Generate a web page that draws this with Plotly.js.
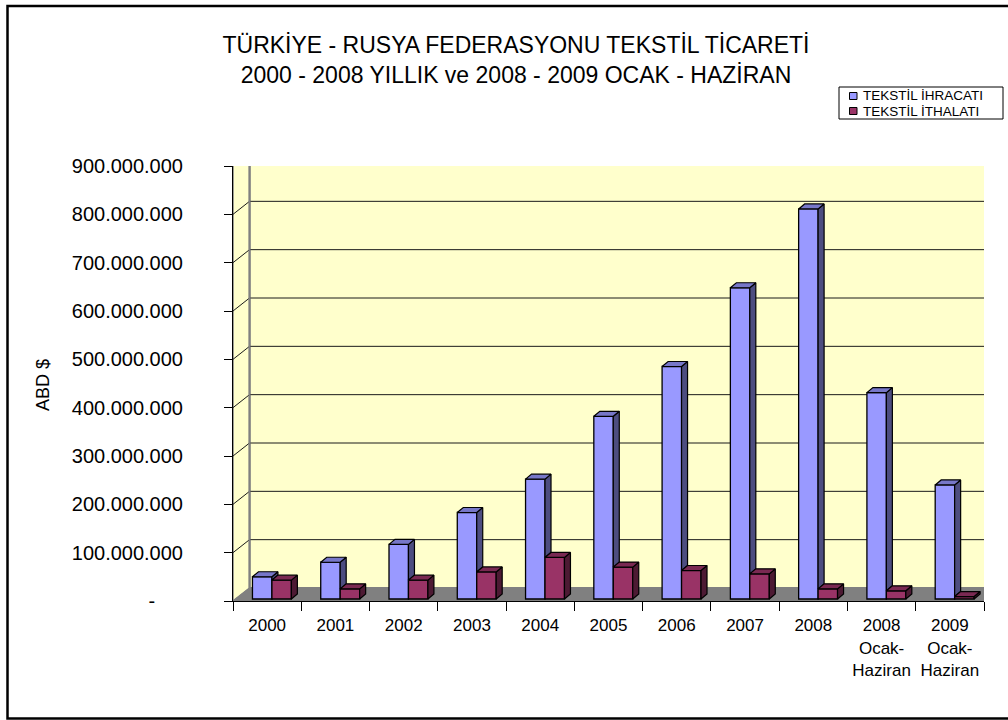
<!DOCTYPE html>
<html>
<head>
<meta charset="utf-8">
<script src="https://cdn.plot.ly/plotly-3.0.1.min.js"></script>
<style>html,body{margin:0;padding:0;background:#fff;}#chart{width:1008px;height:720px;}</style>
</head>
<body>
<div id="chart"></div>
<script>
// ---- data ----
const categories = ['2000','2001','2002','2003','2004','2005','2006','2007','2008','2008<br>Ocak-<br>Haziran','2009<br>Ocak-<br>Haziran'];
const exportsUSD = [46e6, 76e6, 113e6, 179e6, 248e6, 378e6, 481e6, 644e6, 807e6, 427e6, 236e6];
const importsUSD = [39e6, 21e6, 39e6, 56e6, 86e6, 66e6, 59e6, 52e6, 21e6, 17e6, 5e6];
const seriesNames = ['TEKSTİL İHRACATI', 'TEKSTİL İTHALATI'];
const yTickVals = [0, 100e6, 200e6, 300e6, 400e6, 500e6, 600e6, 700e6, 800e6, 900e6];
const yTickText = ['-\u00a0\u00a0\u00a0\u00a0\u00a0', '100.000.000', '200.000.000', '300.000.000', '400.000.000', '500.000.000', '600.000.000', '700.000.000', '800.000.000', '900.000.000'];

// ---- geometry (pixels) ----
const PL = 233, PR = 984, PT = 166, PB = 601;
const PW = PR - PL, PH = PB - PT;
const N = categories.length;
const YMAX = 900e6;
const xPerPx = N / PW, yPerPx = YMAX / PH;
const wallDX = 16.5 * xPerPx, wallDY = 13 * yPerPx;   // back wall depth
const barDX = 6 * xPerPx, barDY = 5 * yPerPx;         // bar depth
const barBase = 2 * yPerPx;
const barW = 0.285, blueOff = -0.215, redOff = 0.07;
const px = v => (v - PL) / PW, py = v => (PB - v) / PH;
const xs = categories.map((c, i) => i);

function sideFaces(vals, off, lowerVals) {
  const X = [], Y = [];
  vals.forEach((v, i) => {
    const r = i + off + barW;
    const top = barBase + v;
    const bot = lowerVals ? Math.min(barBase + lowerVals[i], top) : barBase;
    X.push(r, r + barDX, r + barDX, r, r, null);
    Y.push(bot, bot + barDY, top + barDY, top, bot, null);
  });
  return {X, Y};
}
function topFaces(vals, off) {
  const X = [], Y = [];
  vals.forEach((v, i) => {
    const l = i + off, r = l + barW, t = barBase + v;
    X.push(l, l + barDX, r + barDX, r, l, null);
    Y.push(t, t + barDY, t + barDY, t, t, null);
  });
  return {X, Y};
}

const blueFront = '#9999FF', blueSide = '#4D4D80', blueTop = '#7777C8';
const redFront = '#993366', redSide = '#4D1A33', redTop = '#7A2952';
const edge = {color: '#000', width: 1.3};

const bs = sideFaces(exportsUSD, blueOff, importsUSD);
const bt = topFaces(exportsUSD, blueOff);
const rs = sideFaces(importsUSD, redOff, null);
const rt = topFaces(importsUSD, redOff);

const poly = (d, color) => ({type: 'scatter', mode: 'lines', x: d.X, y: d.Y, fill: 'toself',
  fillcolor: color, line: {color: '#000', width: 1.2}, hoverinfo: 'skip', showlegend: false, connectgaps: false});

const traces = [
  {type: 'bar', name: seriesNames[0], x: xs, y: exportsUSD, base: barBase, offset: blueOff, width: barW,
   marker: {color: blueFront, line: edge}, showlegend: false},
  {type: 'bar', name: seriesNames[1], x: xs, y: importsUSD, base: barBase, offset: redOff, width: barW,
   marker: {color: redFront, line: edge}, showlegend: false},
  poly(bs, blueSide), poly(bt, blueTop), poly(rs, redSide), poly(rt, redTop)
];

// ---- walls, floor, gridlines ----
const x0 = -0.5, x1 = N - 0.5;
const shapes = [];
shapes.push({type: 'rect', xref: 'x', yref: 'y', layer: 'below', x0: x0 + wallDX, x1: x1 + wallDX, y0: wallDY, y1: YMAX + wallDY,
  fillcolor: '#FFFFCC', line: {color: '#808080', width: 2}});
shapes.push({type: 'path', xref: 'x', yref: 'y', layer: 'below',
  path: `M${x0},0 L${x0 + wallDX},${wallDY} L${x0 + wallDX},${YMAX + wallDY} L${x0},${YMAX} Z`,
  fillcolor: '#FFFFCC', line: {color: '#808080', width: 1.5}});
yTickVals.slice(1, -1).forEach(v => {
  shapes.push({type: 'path', xref: 'x', yref: 'y', layer: 'below',
    path: `M${x0},${v} L${x0 + wallDX},${v + wallDY} L${x1 + wallDX},${v + wallDY}`,
    line: {color: '#1a1a1a', width: 1}});
});
shapes.push({type: 'line', xref: 'x', yref: 'y', layer: 'below', x0: x0 + wallDX, x1: x0 + wallDX, y0: wallDY, y1: YMAX + wallDY,
  line: {color: '#808080', width: 2}});
shapes.push({type: 'path', xref: 'x', yref: 'y', layer: 'below',
  path: `M${x0},0 L${x0 + wallDX},${wallDY} L${x1 + wallDX},${wallDY} L${x1},0 Z`,
  fillcolor: '#808080', line: {color: '#808080', width: 1}});
// outer chart border
shapes.push({type: 'rect', xref: 'paper', yref: 'paper', layer: 'above', x0: px(7.5), x1: px(1015), y0: py(6), y1: py(718.5),
  line: {color: '#000', width: 2.5}});
// legend box + keys
shapes.push({type: 'rect', xref: 'paper', yref: 'paper', layer: 'above', x0: px(839), x1: px(1003), y0: py(87), y1: py(119),
  fillcolor: '#fff', line: {color: '#000', width: 1}});
shapes.push({type: 'rect', xref: 'paper', yref: 'paper', layer: 'above', x0: px(849.5), x1: px(857), y0: py(92.5), y1: py(99.5),
  fillcolor: blueFront, line: {color: '#000', width: 1}});
shapes.push({type: 'rect', xref: 'paper', yref: 'paper', layer: 'above', x0: px(849.5), x1: px(857), y0: py(107.5), y1: py(114.5),
  fillcolor: redFront, line: {color: '#000', width: 1}});

const FONT = 'Liberation Sans, Arial, sans-serif';
const annotations = [
  {xref: 'paper', yref: 'paper', x: px(861), y: py(95.5), xanchor: 'left', yanchor: 'middle', showarrow: false,
   text: seriesNames[0], font: {family: FONT, size: 13.5, color: '#000'}},
  {xref: 'paper', yref: 'paper', x: px(861), y: py(111), xanchor: 'left', yanchor: 'middle', showarrow: false,
   text: seriesNames[1], font: {family: FONT, size: 13.5, color: '#000'}},
  {xref: 'paper', yref: 'paper', x: px(43), y: py(385), xanchor: 'center', yanchor: 'middle', showarrow: false,
   text: 'ABD $', textangle: -90, font: {family: FONT, size: 18, color: '#000'}}
];

const layout = {
  width: 1008, height: 720,
  margin: {l: PL, r: 1008 - PR, t: PT, b: 720 - PB, pad: 0},
  paper_bgcolor: '#fff', plot_bgcolor: 'rgba(0,0,0,0)',
  font: {family: FONT, color: '#000'},
  title: {text: 'TÜRKİYE - RUSYA FEDERASYONU TEKSTİL TİCARETİ<br>2000 - 2008 YILLIK ve 2008 - 2009 OCAK - HAZİRAN',
    font: {family: FONT, size: 23, color: '#000'}, xref: 'container', x: 516 / 1008, xanchor: 'center',
    yref: 'container', y: 1 - 53 / 720, yanchor: 'top'},
  showlegend: false,
  barmode: 'overlay',
  xaxis: {type: 'linear', range: [x0, x1], tickvals: xs, ticktext: categories, ticks: '', showgrid: false, zeroline: false,
    showline: true, linecolor: '#000', linewidth: 1, tickfont: {family: FONT, size: 17, color: '#000'}, ticklabelstandoff: 9,
    minor: {tickvals: xs.concat([N]).map(i => i - 0.5), ticks: 'outside', ticklen: 9, tickcolor: '#000', tickwidth: 1, showgrid: false},
    fixedrange: true},
  yaxis: {range: [0, YMAX], tickvals: yTickVals, ticktext: yTickText, ticks: 'outside', ticklen: 8, tickcolor: '#000', tickwidth: 1,
    showgrid: false, zeroline: false, showline: true, linecolor: '#000', linewidth: 1,
    tickfont: {family: FONT, size: 20, color: '#000'}, ticklabelstandoff: 37, fixedrange: true},
  shapes: shapes,
  annotations: annotations
};

Plotly.newPlot('chart', traces, layout, {displayModeBar: false, staticPlot: true});
</script>
</body>
</html>
